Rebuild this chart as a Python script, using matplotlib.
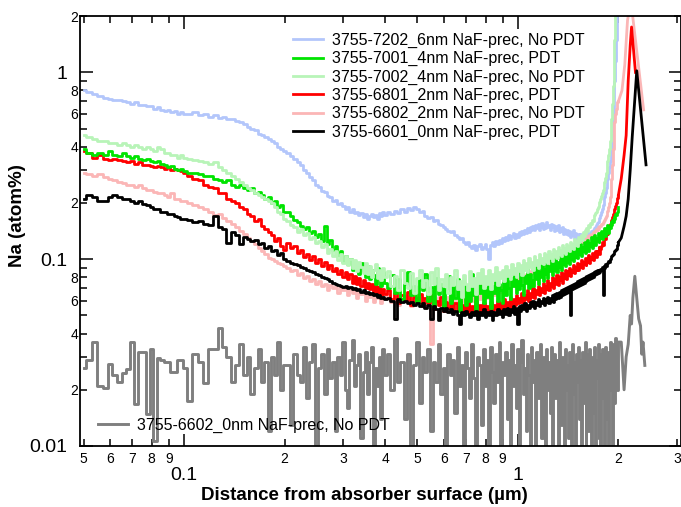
import numpy as np
import matplotlib
matplotlib.use("Agg")
import matplotlib.pyplot as plt
from matplotlib.ticker import LogLocator, FuncFormatter

plt.rcParams['font.family'] = ['Liberation Sans', 'DejaVu Sans']

# Depth grid of the profiles (µm): finer sampling near the surface
depth = np.concatenate([np.arange(50, 101, 2), np.arange(104, 201, 4),
                        np.arange(205, 401, 5), np.arange(410, 2001, 10)]) / 1000.0

# Na concentration (atom%) for each sample on the depth grid
na_7202 = [0.80, 0.79, 0.77, 0.75, 0.73, 0.72, 0.71, 0.71, 0.70, 0.69, 0.68, 0.69, 0.67, 0.67, 0.66, 0.66, 0.64, 0.65, 0.63, 0.62, 0.63, 0.61, 0.62, 0.60, 0.61, 0.60,
           0.60, 0.61, 0.59, 0.60, 0.58, 0.59, 0.57, 0.58, 0.56, 0.56, 0.55, 0.54, 0.53, 0.51, 0.50, 0.49, 0.47, 0.46, 0.45, 0.44, 0.43, 0.42, 0.40, 0.39, 0.38,
           0.37, 0.355, 0.345, 0.33, 0.32, 0.30, 0.29, 0.275, 0.265, 0.25,
           0.245, 0.232, 0.228, 0.218, 0.216, 0.205, 0.208, 0.198, 0.2, 0.192,
           0.186, 0.19, 0.18, 0.185, 0.176, 0.18, 0.172, 0.177, 0.168, 0.174,
           0.165, 0.17, 0.175, 0.168, 0.172, 0.165, 0.176, 0.17, 0.178, 0.172,
           0.18, 0.174, 0.182, 0.177, 0.185, 0.179, 0.188, 0.183, 0.19, 0.185,
           0.178, 0.181, 0.17, 0.166, 0.168, 0.16, 0.163, 0.155, 0.152, 0.148,
           0.145, 0.142, 0.139, 0.141, 0.134, 0.132, 0.128, 0.13, 0.124, 0.121,
           0.123, 0.118, 0.115, 0.119, 0.112, 0.117, 0.121, 0.113, 0.116, 0.12,
           0.114, 0.1, 0.119, 0.123, 0.117, 0.125, 0.12, 0.127, 0.122, 0.13,
           0.125, 0.131, 0.127, 0.134, 0.128, 0.133, 0.138, 0.13, 0.136, 0.132,
           0.139, 0.134, 0.141, 0.136, 0.143, 0.138, 0.146, 0.14, 0.148, 0.143,
           0.151, 0.144, 0.153, 0.147, 0.155, 0.143, 0.149, 0.156, 0.145, 0.152,
           0.147, 0.158, 0.149, 0.153, 0.144, 0.155, 0.148, 0.152, 0.141, 0.15,
           0.143, 0.152, 0.139, 0.147, 0.141, 0.149, 0.137, 0.145, 0.14, 0.136,
           0.144, 0.135, 0.142, 0.132, 0.14, 0.134, 0.143, 0.13, 0.138, 0.133,
           0.127, 0.136, 0.13, 0.137, 0.126, 0.134, 0.129, 0.137, 0.131, 0.128,
           0.135, 0.13, 0.138, 0.133, 0.137, 0.141, 0.136, 0.143, 0.14, 0.146,
           0.149, 0.152, 0.156, 0.158, 0.162, 0.166, 0.172, 0.178, 0.185, 0.195,
           0.205, 0.215, 0.225, 0.24, 0.255, 0.27, 0.29, 0.31, 0.335, 0.36,
           0.4, 0.46, 0.56, 0.7, 0.9, 1.15, 1.5, 2.0, 2.6, 3.2]

na_7002 = [0.46, 0.45, 0.44, 0.43, 0.43, 0.42, 0.42, 0.41, 0.42, 0.41, 0.40, 0.41, 0.40, 0.39, 0.40, 0.39, 0.38, 0.40, 0.39, 0.37, 0.37, 0.36, 0.36, 0.35, 0.36, 0.35,
           0.345, 0.34, 0.335, 0.33, 0.325, 0.33, 0.31, 0.30, 0.29, 0.28, 0.27, 0.26, 0.25, 0.24, 0.235, 0.225, 0.22, 0.215, 0.21, 0.205, 0.20, 0.19, 0.18, 0.175, 0.165,
           0.16, 0.152, 0.148, 0.14, 0.145, 0.135, 0.138, 0.128, 0.131, 0.122,
           0.125, 0.116, 0.12, 0.108, 0.114, 0.104, 0.11, 0.099, 0.107, 0.096,
           0.104, 0.093, 0.1, 0.09, 0.099, 0.086, 0.097, 0.091, 0.084, 0.095,
           0.083, 0.092, 0.08, 0.088, 0.094, 0.079, 0.087, 0.077, 0.09, 0.08,
           0.086, 0.072, 0.081, 0.068, 0.088, 0.075, 0.07, 0.084, 0.066, 0.079,
           0.087, 0.071, 0.077, 0.065, 0.085, 0.074, 0.09, 0.068, 0.078, 0.072,
           0.083, 0.066, 0.08, 0.073, 0.088, 0.069, 0.076, 0.063, 0.082, 0.074,
           0.068, 0.086, 0.072, 0.079, 0.065, 0.084, 0.075, 0.089, 0.07, 0.081,
           0.074, 0.087, 0.069, 0.083, 0.077, 0.091, 0.073, 0.085, 0.079, 0.088,
           0.076, 0.092, 0.081, 0.087, 0.078, 0.094, 0.083, 0.09, 0.08, 0.096,
           0.086, 0.093, 0.082, 0.099, 0.088, 0.095, 0.085, 0.101, 0.091, 0.097,
           0.088, 0.104, 0.093, 0.099, 0.09, 0.106, 0.096, 0.102, 0.094, 0.108,
           0.098, 0.105, 0.096, 0.111, 0.101, 0.107, 0.098, 0.113, 0.104, 0.11,
           0.101, 0.116, 0.106, 0.112, 0.104, 0.119, 0.109, 0.115, 0.107, 0.121,
           0.112, 0.118, 0.11, 0.124, 0.115, 0.121, 0.113, 0.128, 0.119, 0.125,
           0.118, 0.132, 0.123, 0.129, 0.135, 0.127, 0.139, 0.133, 0.143, 0.138,
           0.147, 0.142, 0.152, 0.149, 0.157, 0.155, 0.163, 0.161, 0.168, 0.172,
           0.176, 0.18, 0.186, 0.19, 0.197, 0.203, 0.21, 0.218, 0.226, 0.235,
           0.245, 0.258, 0.272, 0.29, 0.31, 0.335, 0.36, 0.39, 0.43, 0.48,
           0.56, 0.68, 0.85, 1.1, 1.5, 2.1, 2.8, 3.5, 4.0, 4.5]

na_7001 = [0.39, 0.37, 0.36, 0.37, 0.36, 0.38, 0.36, 0.355, 0.37, 0.355, 0.35, 0.355, 0.345, 0.34, 0.345, 0.335, 0.33, 0.335, 0.325, 0.32, 0.31, 0.315, 0.305, 0.30, 0.305, 0.295,
           0.29, 0.29, 0.285, 0.28, 0.28, 0.27, 0.265, 0.26, 0.265, 0.25, 0.245, 0.25, 0.24, 0.235, 0.24, 0.225, 0.23, 0.22, 0.21, 0.215, 0.20, 0.205, 0.19, 0.195, 0.18,
           0.178, 0.17, 0.163, 0.158, 0.15, 0.145, 0.148, 0.138, 0.142, 0.132,
           0.136, 0.125, 0.15, 0.12, 0.127, 0.112, 0.118, 0.105, 0.11, 0.098,
           0.104, 0.094, 0.1, 0.088, 0.097, 0.09, 0.083, 0.095, 0.086, 0.08,
           0.092, 0.078, 0.087, 0.082, 0.074, 0.09, 0.079, 0.072, 0.085, 0.075,
           0.07, 0.082, 0.066, 0.078, 0.061, 0.074, 0.085, 0.064, 0.072, 0.059,
           0.077, 0.068, 0.083, 0.06, 0.071, 0.056, 0.079, 0.065, 0.074, 0.054,
           0.069, 0.081, 0.058, 0.072, 0.062, 0.078, 0.053, 0.067, 0.075, 0.057,
           0.071, 0.06, 0.083, 0.064, 0.052, 0.073, 0.066, 0.079, 0.058, 0.07,
           0.063, 0.08, 0.055, 0.072, 0.066, 0.084, 0.06, 0.074, 0.068, 0.058,
           0.077, 0.064, 0.082, 0.07, 0.061, 0.079, 0.072, 0.086, 0.066, 0.076,
           0.069, 0.085, 0.073, 0.064, 0.081, 0.075, 0.09, 0.07, 0.083, 0.077,
           0.072, 0.088, 0.078, 0.092, 0.074, 0.085, 0.08, 0.095, 0.076, 0.089,
           0.083, 0.098, 0.079, 0.092, 0.086, 0.1, 0.082, 0.094, 0.088, 0.103,
           0.085, 0.097, 0.091, 0.106, 0.088, 0.1, 0.094, 0.109, 0.092, 0.104,
           0.097, 0.112, 0.094, 0.107, 0.1, 0.115, 0.098, 0.109, 0.103, 0.118,
           0.101, 0.113, 0.106, 0.121, 0.104, 0.116, 0.11, 0.124, 0.108, 0.119,
           0.113, 0.127, 0.111, 0.122, 0.117, 0.131, 0.115, 0.126, 0.121, 0.134,
           0.119, 0.13, 0.125, 0.138, 0.123, 0.134, 0.13, 0.142, 0.128, 0.139,
           0.135, 0.147, 0.133, 0.144, 0.14, 0.152, 0.138, 0.15, 0.147, 0.158,
           0.152, 0.163, 0.158, 0.168, 0.165, 0.174, 0.172, 0.18, 0.178, 0.19]

na_6801 = [0.38, 0.37, 0.35, 0.36, 0.345, 0.34, 0.345, 0.34, 0.335, 0.33, 0.335, 0.325, 0.33, 0.32, 0.32, 0.315, 0.31, 0.315, 0.31, 0.305, 0.31, 0.30, 0.305, 0.30, 0.295, 0.29,
           0.28, 0.27, 0.265, 0.25, 0.245, 0.24, 0.225, 0.225, 0.21, 0.205, 0.2, 0.19, 0.185, 0.175, 0.17, 0.16, 0.165, 0.15, 0.145, 0.14, 0.135, 0.125, 0.13, 0.118, 0.112,
           0.122, 0.115, 0.118, 0.108, 0.112, 0.103, 0.107, 0.099, 0.104, 0.095,
           0.1, 0.092, 0.097, 0.089, 0.093, 0.086, 0.09, 0.083, 0.088, 0.08,
           0.085, 0.078, 0.083, 0.075, 0.081, 0.074, 0.079, 0.072, 0.077, 0.07,
           0.075, 0.069, 0.074, 0.067, 0.072, 0.066, 0.071, 0.064, 0.069, 0.065,
           0.068, 0.061, 0.066, 0.058, 0.064, 0.06, 0.067, 0.057, 0.063, 0.059,
           0.065, 0.056, 0.062, 0.058, 0.064, 0.054, 0.06, 0.057, 0.063, 0.053,
           0.059, 0.055, 0.061, 0.052, 0.058, 0.054, 0.06, 0.051, 0.057, 0.053,
           0.059, 0.05, 0.056, 0.053, 0.06, 0.051, 0.057, 0.052, 0.058, 0.05,
           0.056, 0.053, 0.059, 0.051, 0.057, 0.054, 0.06, 0.052, 0.058, 0.055,
           0.061, 0.053, 0.059, 0.056, 0.063, 0.055, 0.061, 0.057, 0.064, 0.058,
           0.062, 0.059, 0.066, 0.058, 0.064, 0.061, 0.068, 0.06, 0.066, 0.063,
           0.07, 0.062, 0.068, 0.065, 0.072, 0.064, 0.07, 0.067, 0.075, 0.066,
           0.072, 0.069, 0.077, 0.068, 0.075, 0.072, 0.08, 0.07, 0.078, 0.074,
           0.082, 0.073, 0.08, 0.077, 0.085, 0.075, 0.083, 0.079, 0.087, 0.078,
           0.086, 0.082, 0.09, 0.081, 0.088, 0.085, 0.093, 0.084, 0.091, 0.088,
           0.096, 0.087, 0.094, 0.091, 0.099, 0.09, 0.097, 0.094, 0.102, 0.093,
           0.1, 0.097, 0.105, 0.096, 0.103, 0.1, 0.108, 0.099, 0.106, 0.104,
           0.111, 0.103, 0.11, 0.108, 0.116, 0.107, 0.114, 0.118, 0.124, 0.119,
           0.127, 0.131, 0.128, 0.136, 0.14, 0.137, 0.145, 0.149, 0.154, 0.158,
           0.163, 0.168, 0.174, 0.18, 0.186, 0.192, 0.199, 0.206, 0.213, 0.22]

na_6802 = [0.29, 0.285, 0.28, 0.285, 0.275, 0.27, 0.265, 0.26, 0.255, 0.25, 0.25, 0.245, 0.25, 0.24, 0.235, 0.235, 0.23, 0.225, 0.225, 0.22, 0.215, 0.225, 0.21, 0.21, 0.205, 0.205,
           0.2, 0.195, 0.19, 0.185, 0.18, 0.172, 0.175, 0.166, 0.16, 0.155, 0.148, 0.142, 0.136, 0.13, 0.125, 0.12, 0.115, 0.11, 0.106, 0.102, 0.1, 0.098, 0.096, 0.094, 0.092,
           0.09, 0.086, 0.088, 0.082, 0.084, 0.079, 0.081, 0.076, 0.078, 0.074,
           0.076, 0.072, 0.074, 0.068, 0.073, 0.07, 0.072, 0.066, 0.071, 0.068,
           0.07, 0.064, 0.069, 0.066, 0.068, 0.062, 0.067, 0.065, 0.066, 0.06,
           0.066, 0.063, 0.065, 0.059, 0.064, 0.062, 0.065, 0.058, 0.063, 0.061,
           0.064, 0.059, 0.063, 0.057, 0.062, 0.06, 0.064, 0.056, 0.061, 0.059,
           0.063, 0.058, 0.062, 0.057, 0.035, 0.061, 0.059, 0.063, 0.057, 0.062,
           0.058, 0.063, 0.059, 0.064, 0.058, 0.062, 0.06, 0.065, 0.059, 0.063,
           0.061, 0.066, 0.06, 0.064, 0.062, 0.067, 0.061, 0.065, 0.063, 0.068,
           0.062, 0.067, 0.065, 0.07, 0.064, 0.068, 0.066, 0.071, 0.067, 0.072,
           0.068, 0.073, 0.07, 0.075, 0.069, 0.074, 0.072, 0.077, 0.073, 0.078,
           0.075, 0.08, 0.076, 0.082, 0.078, 0.083, 0.08, 0.085, 0.082, 0.087,
           0.084, 0.089, 0.085, 0.09, 0.087, 0.092, 0.089, 0.094, 0.09, 0.095,
           0.093, 0.098, 0.094, 0.1, 0.096, 0.101, 0.098, 0.103, 0.1, 0.105,
           0.102, 0.107, 0.103, 0.108, 0.105, 0.11, 0.106, 0.112, 0.108, 0.113,
           0.11, 0.115, 0.111, 0.116, 0.113, 0.118, 0.115, 0.12, 0.116, 0.121,
           0.118, 0.123, 0.12, 0.125, 0.122, 0.127, 0.124, 0.129, 0.126, 0.131,
           0.128, 0.133, 0.13, 0.135, 0.132, 0.137, 0.135, 0.14, 0.138, 0.142,
           0.141, 0.145, 0.144, 0.148, 0.147, 0.151, 0.15, 0.154, 0.155, 0.158,
           0.16, 0.163, 0.166, 0.17, 0.175, 0.182, 0.19, 0.2, 0.215, 0.235,
           0.27, 0.32, 0.39, 0.46, 0.54, 0.6, 0.64, 0.67, 0.69, 0.7]

na_6601 = [0.21, 0.22, 0.215, 0.205, 0.205, 0.215, 0.22, 0.215, 0.21, 0.21, 0.205, 0.2, 0.205, 0.197, 0.195, 0.19, 0.185, 0.185, 0.18, 0.178, 0.175, 0.175, 0.17, 0.168, 0.165, 0.165,
           0.162, 0.158, 0.16, 0.155, 0.153, 0.17, 0.148, 0.145, 0.122, 0.14, 0.135, 0.12, 0.132, 0.128, 0.125, 0.127, 0.12, 0.122, 0.115, 0.118, 0.11, 0.112, 0.105, 0.108, 0.1,
           0.098, 0.096, 0.094, 0.093, 0.091, 0.09, 0.088, 0.086, 0.085, 0.083,
           0.082, 0.08, 0.079, 0.078, 0.076, 0.075, 0.074, 0.073, 0.072, 0.071,
           0.072, 0.07, 0.071, 0.069, 0.07, 0.068, 0.069, 0.067, 0.068, 0.066,
           0.067, 0.065, 0.066, 0.064, 0.065, 0.063, 0.064, 0.062, 0.063, 0.061,
           0.062, 0.06, 0.048, 0.061, 0.059, 0.06, 0.058, 0.059, 0.057, 0.058,
           0.056, 0.058, 0.055, 0.057, 0.048, 0.056, 0.054, 0.047, 0.055, 0.053,
           0.055, 0.052, 0.054, 0.051, 0.053, 0.05, 0.045, 0.052, 0.05, 0.053,
           0.051, 0.049, 0.052, 0.05, 0.053, 0.048, 0.052, 0.05, 0.054, 0.049,
           0.052, 0.05, 0.053, 0.047, 0.052, 0.05, 0.054, 0.051, 0.053, 0.049,
           0.054, 0.051, 0.055, 0.05, 0.054, 0.052, 0.056, 0.051, 0.055, 0.045,
           0.056, 0.053, 0.057, 0.054, 0.058, 0.053, 0.057, 0.055, 0.059, 0.056,
           0.06, 0.055, 0.059, 0.057, 0.061, 0.056, 0.06, 0.058, 0.062, 0.057,
           0.061, 0.059, 0.063, 0.058, 0.062, 0.06, 0.064, 0.059, 0.065, 0.061,
           0.066, 0.062, 0.067, 0.063, 0.068, 0.064, 0.069, 0.065, 0.07, 0.066,
           0.071, 0.067, 0.072, 0.05, 0.073, 0.069, 0.074, 0.07, 0.075, 0.071,
           0.076, 0.072, 0.077, 0.073, 0.078, 0.074, 0.079, 0.075, 0.08, 0.076,
           0.081, 0.077, 0.082, 0.078, 0.083, 0.079, 0.084, 0.08, 0.085, 0.082,
           0.086, 0.083, 0.087, 0.084, 0.088, 0.085, 0.089, 0.087, 0.091, 0.064,
           0.092, 0.09, 0.094, 0.092, 0.096, 0.095, 0.098, 0.097, 0.1, 0.102,
           0.104, 0.105, 0.107, 0.108, 0.11, 0.112, 0.114, 0.116, 0.119, 0.123]

na_6602 = [0.026, 0.029, 0.036, 0.021, 0.0205, 0.0274, 0.024, 0.022, 0.0245, 0.0258, 0.036, 0.0168, 0.032, 0.032, 0.0148, 0.033, 0.0107, 0.0296, 0.029, 0.028, 0.028, 0.025, 0.025, 0.029, 0.029, 0.026,
           0.0174, 0.031, 0.028, 0.0218, 0.033, 0.033, 0.043, 0.034, 0.03, 0.022, 0.027, 0.035, 0.024, 0.03, 0.019, 0.026, 0.033, 0.022, 0.028, 0.012, 0.03, 0.024, 0.036, 0.02, 0.027,
           0.027, 0.013, 0.031, 0.024, 0.022, 0.034, 0.018, 0.028, 0.035, 0.009,
           0.026, 0.031, 0.019, 0.033, 0.023, 0.028, 0.012, 0.03, 0.024, 0.036,
           0.02, 0.016, 0.029, 0.037, 0.021, 0.027, 0.031, 0.011, 0.025, 0.032,
           0.019, 0.028, 0.034, 0.009, 0.026, 0.021, 0.03, 0.014, 0.033, 0.024,
           0.031, 0.02, 0.038, 0.022, 0.028, 0.014, 0.031, 0.009, 0.027, 0.036,
           0.017, 0.03, 0.025, 0.033, 0.012, 0.028, 0.022, 0.035, 0.019, 0.026,
           0.009, 0.031, 0.024, 0.029, 0.015, 0.034, 0.021, 0.027, 0.009, 0.032,
           0.026, 0.018, 0.035, 0.023, 0.009, 0.03, 0.027, 0.013, 0.033, 0.021,
           0.029, 0.009, 0.034, 0.025, 0.017, 0.031, 0.022, 0.036, 0.01, 0.028,
           0.024, 0.032, 0.014, 0.029, 0.009, 0.035, 0.021, 0.027, 0.016, 0.033,
           0.009, 0.028, 0.037, 0.019, 0.026, 0.012, 0.031, 0.024, 0.009, 0.034,
           0.022, 0.029, 0.009, 0.032, 0.018, 0.027, 0.035, 0.011, 0.03, 0.024,
           0.009, 0.033, 0.02, 0.028, 0.015, 0.034, 0.009, 0.026, 0.031, 0.018,
           0.029, 0.009, 0.036, 0.023, 0.013, 0.03, 0.025, 0.009, 0.033, 0.02,
           0.027, 0.011, 0.032, 0.024, 0.009, 0.035, 0.019, 0.028, 0.009, 0.031,
           0.022, 0.034, 0.014, 0.029, 0.009, 0.032, 0.025, 0.017, 0.036, 0.009,
           0.027, 0.031, 0.012, 0.033, 0.021, 0.009, 0.03, 0.026, 0.015, 0.034,
           0.009, 0.029, 0.023, 0.035, 0.011, 0.031, 0.009, 0.027, 0.033, 0.018,
           0.03, 0.009, 0.034, 0.024, 0.014, 0.032, 0.009, 0.028, 0.036, 0.02,
           0.031, 0.009, 0.035, 0.026, 0.017, 0.038, 0.024, 0.033, 0.02, 0.036]

# Back-contact region beyond the grid (depth µm, Na atom%)
tail_6801_d = [2.00, 2.04, 2.08, 2.11, 2.14, 2.17, 2.19, 2.25]
tail_6801_v = [0.22, 0.27, 0.36, 0.46, 0.9, 1.4, 1.75, 1.0]
tail_6802_d = [2.00, 2.05, 2.09, 2.13, 2.17, 2.20, 2.38]
tail_6802_v = [0.7, 0.8, 1.1, 1.9, 2.3, 2.1, 0.63]
tail_6601_d = [2.00, 2.04, 2.08, 2.11, 2.14, 2.17, 2.20, 2.27, 2.42]
tail_6601_v = [0.123, 0.13, 0.15, 0.17, 0.21, 0.3, 0.45, 1.02, 0.32]
tail_6602_d = [2.00, 2.04, 2.08, 2.11, 2.14, 2.17, 2.19, 2.21, 2.24, 2.27, 2.30, 2.33, 2.35, 2.37, 2.40]
tail_6602_v = [0.036, 0.036, 0.02, 0.03, 0.035, 0.05, 0.045, 0.062, 0.081, 0.062, 0.048, 0.044, 0.031, 0.036, 0.027]

labels = {
    '7202': '3755-7202_6nm NaF-prec, No PDT',
    '7001': '3755-7001_4nm NaF-prec, PDT',
    '7002': '3755-7002_4nm NaF-prec, No PDT',
    '6801': '3755-6801_2nm NaF-prec, PDT',
    '6802': '3755-6802_2nm NaF-prec, No PDT',
    '6601': '3755-6601_0nm NaF-prec, PDT',
    '6602': '3755-6602_0nm NaF-prec, No PDT',
}
colors = {
    '7202': '#b3c6fb', '7001': '#00e400', '7002': '#b8f4b8',
    '6801': '#ff0000', '6802': '#fbb6b6', '6601': '#000000', '6602': '#7f7f7f',
}

fig = plt.figure(figsize=(6.81, 5.07), dpi=100)
ax = fig.add_axes([80 / 681, 61 / 507, 601 / 681, 430 / 507])
ax.set_xscale('log')
ax.set_yscale('log')

# drawing order (back to front)
profiles = [
    ('7202', na_7202, None, None),
    ('6802', na_6802, tail_6802_d, tail_6802_v),
    ('6801', na_6801, tail_6801_d, tail_6801_v),
    ('7001', na_7001, None, None),
    ('7002', na_7002, None, None),
    ('6601', na_6601, tail_6601_d, tail_6601_v),
    ('6602', na_6602, tail_6602_d, tail_6602_v),
]
handles = {}
for key, vals, td, tv in profiles:
    assert len(vals) == len(depth), (key, len(vals), len(depth))
    lw = 2.1 if key == '6602' else 2.0
    h, = ax.plot(depth, vals, drawstyle='steps-mid', color=colors[key], lw=lw,
                 label=labels[key])
    if td is not None:
        ax.plot(td, tv, color=colors[key], lw=lw)
    handles[key] = h

ax.set_xlim(0.0488, 3.08)
ax.set_ylim(0.01, 2.004)

# Decade labels large, in-between digits small
def major_fmt(v, pos):
    return f'{v:g}'

def x_minor_fmt(v, pos):
    d = int(round(v / 10 ** np.floor(np.log10(v) + 1e-9)))
    return str(d)

def y_minor_fmt(v, pos):
    d = int(round(v / 10 ** np.floor(np.log10(v) + 1e-9)))
    return str(d) if d in (2, 4, 6, 8) else ''

for axis in (ax.xaxis, ax.yaxis):
    axis.set_major_locator(LogLocator(base=10, numticks=20))
    axis.set_minor_locator(LogLocator(base=10, subs=np.arange(2, 10), numticks=100))
    axis.set_major_formatter(FuncFormatter(major_fmt))
ax.xaxis.set_minor_formatter(FuncFormatter(x_minor_fmt))
ax.yaxis.set_minor_formatter(FuncFormatter(y_minor_fmt))

ax.tick_params(which='both', direction='in', top=True, right=True, width=1.1)
ax.tick_params(which='major', length=9, labelsize=14)
ax.tick_params(which='minor', length=5, labelsize=10)
ax.tick_params(axis='x', which='major', pad=15)
ax.tick_params(axis='x', which='minor', pad=4)
ax.tick_params(axis='y', which='major', pad=9)
ax.tick_params(axis='y', which='minor', pad=1.5)
for sp in ax.spines.values():
    sp.set_linewidth(1.3)

ax.set_xlabel('Distance from absorber surface (µm)', fontsize=13.5, fontweight='bold')
ax.xaxis.label.set_va('center')
ax.xaxis.set_label_coords((364 - 80) / 601, (446 - 495) / 430)
ax.set_ylabel('Na (atom%)', fontsize=13.5, fontweight='bold')
ax.yaxis.label.set_va('center')
ax.yaxis.set_label_coords((18 - 80) / 601, (446 - 216) / 430)

leg_kw = dict(frameon=False, fontsize=11.5, handlelength=1.9, handletextpad=0.55,
              labelspacing=0.2, borderpad=0, borderaxespad=0, loc='upper left',
              bbox_transform=fig.transFigure)
leg1 = ax.legend(handles=[handles[k] for k in ('7202', '7001', '7002', '6801', '6802', '6601')],
                 bbox_to_anchor=(293 / 681, 1 - 33 / 507), **leg_kw)
ax.add_artist(leg1)
ax.legend(handles=[handles['6602']], bbox_to_anchor=(98 / 681, 1 - 418 / 507), **leg_kw)

fig.savefig('out.png', dpi=100)
